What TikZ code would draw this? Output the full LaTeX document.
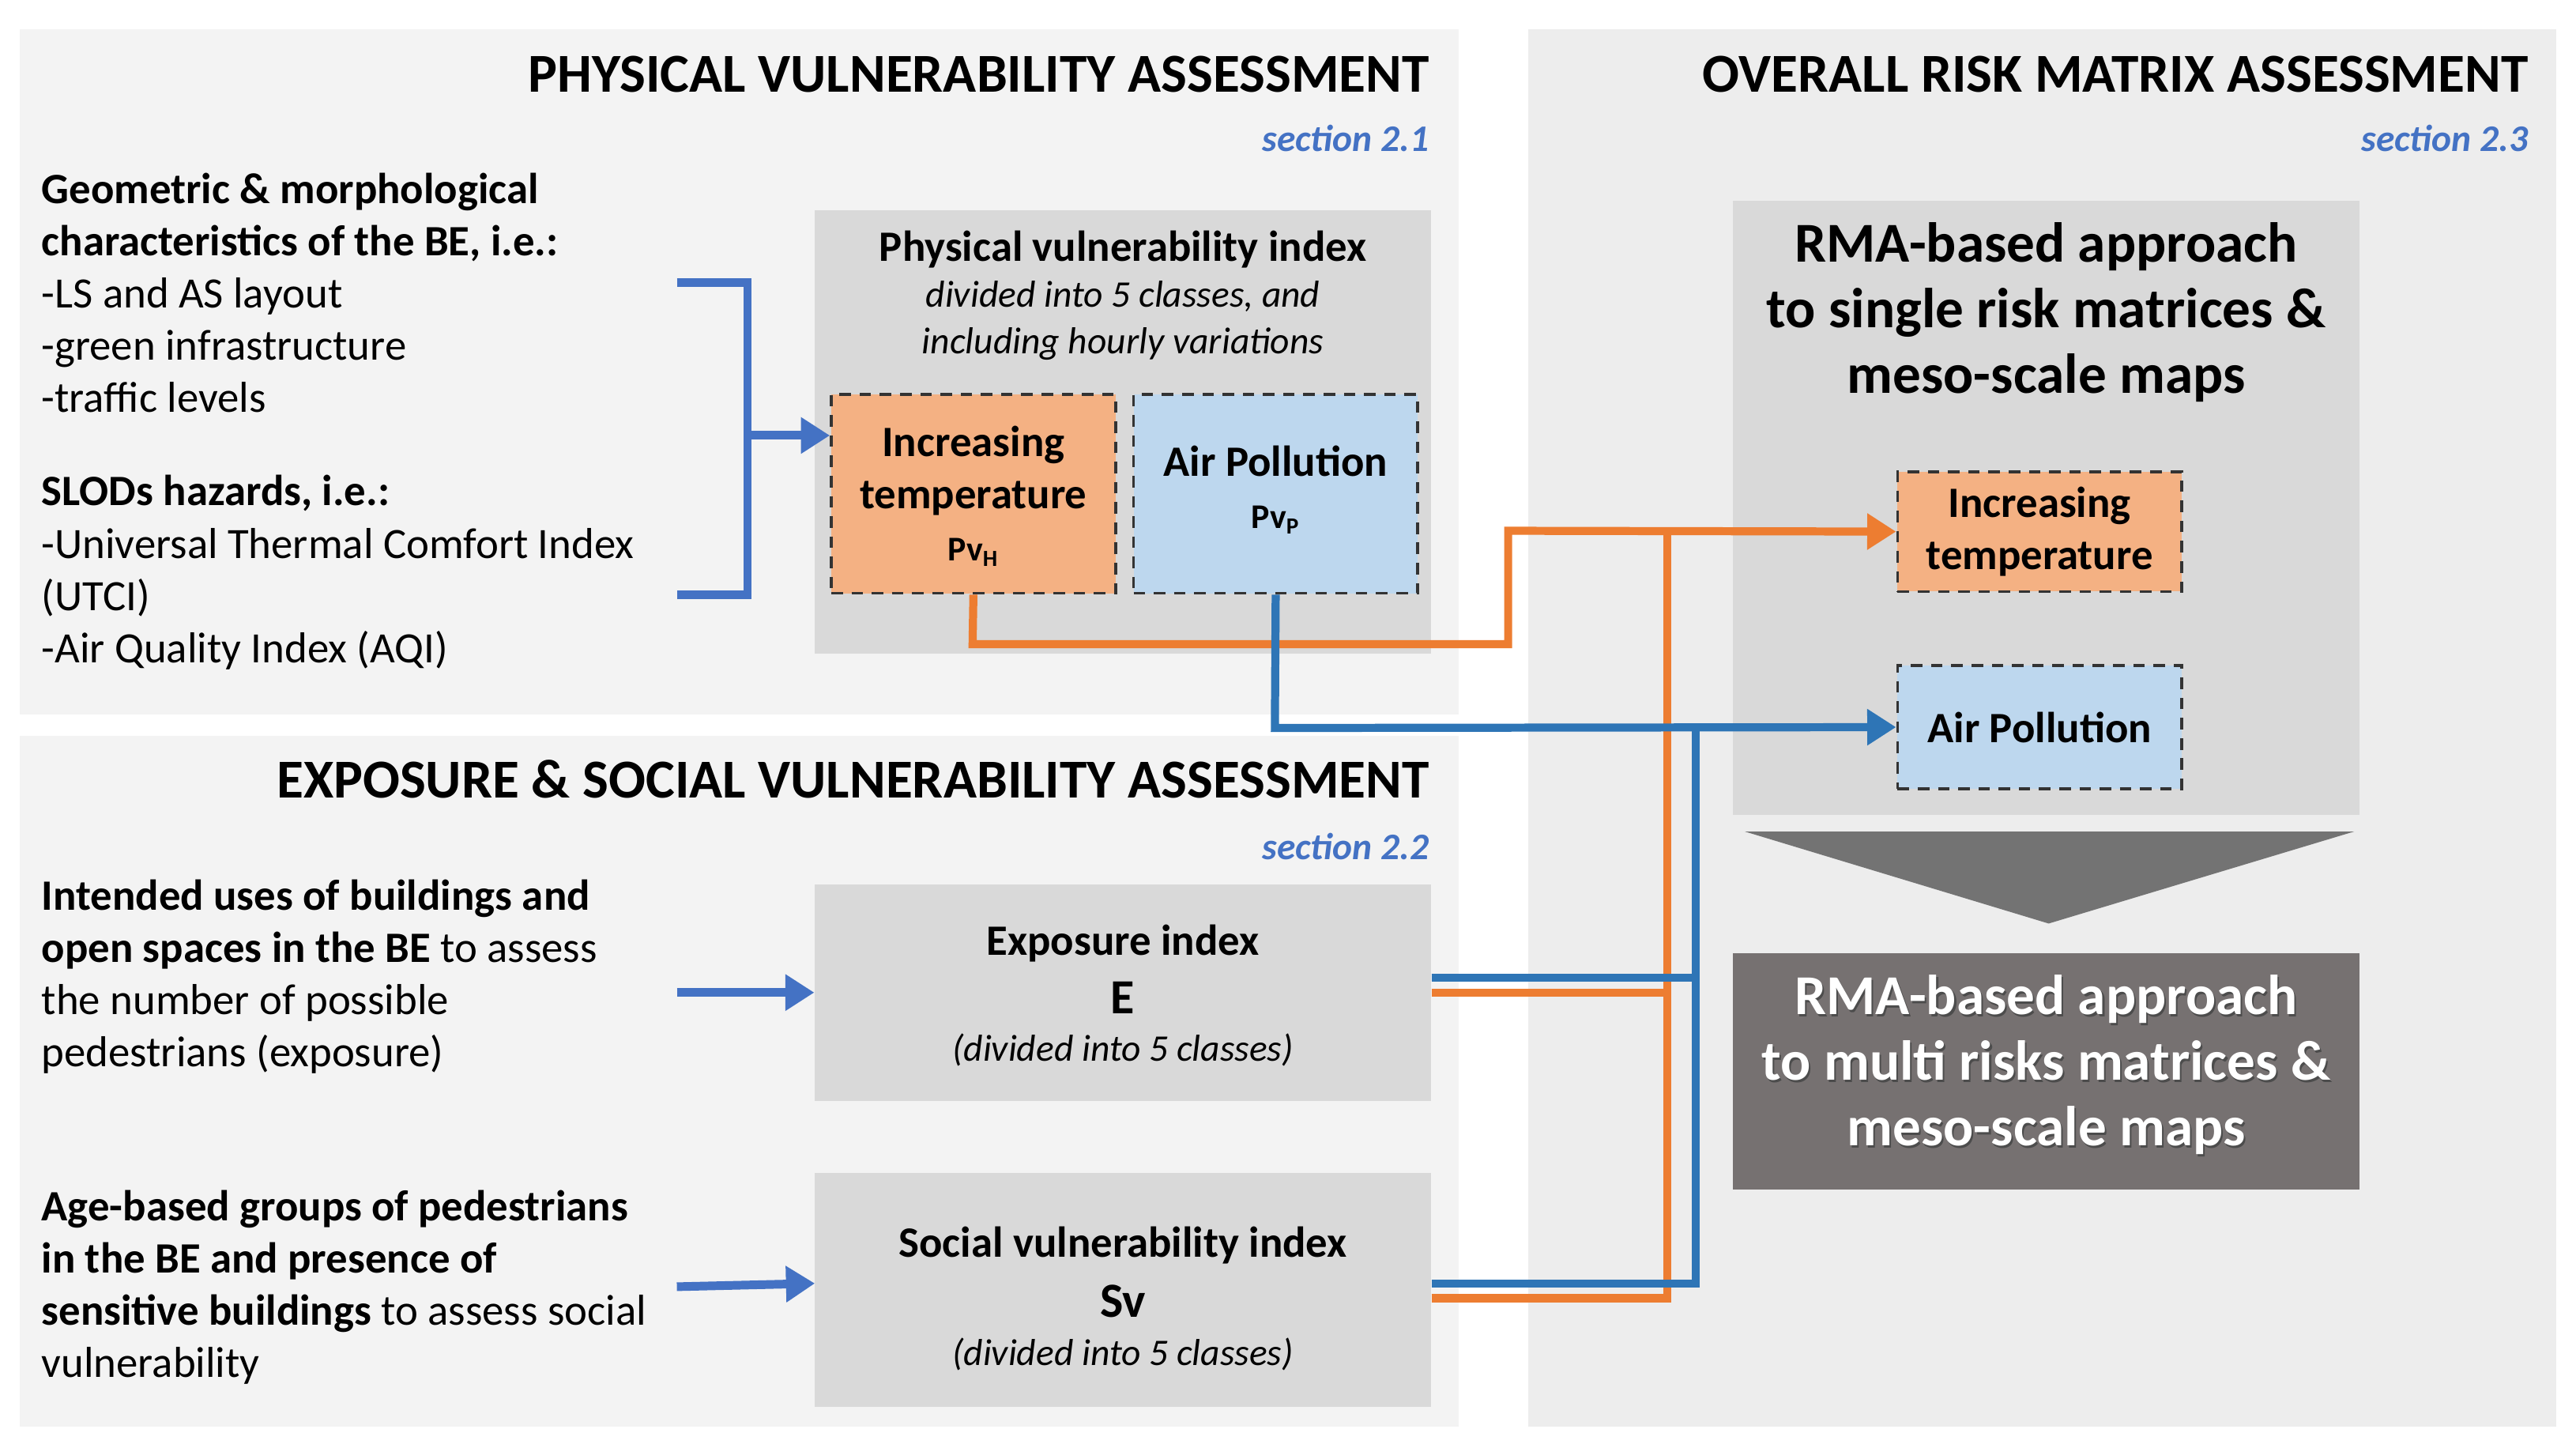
\documentclass[tikz,border=0pt]{standalone}
\usepackage{fontspec}
\setmainfont{Carlito}
\usetikzlibrary{arrows.meta}
\definecolor{bgA}{HTML}{F3F3F3}
\definecolor{bgC}{HTML}{EDEDED}
\definecolor{boxg}{HTML}{D9D9D9}
\definecolor{org}{HTML}{ED7D31}
\definecolor{orgf}{HTML}{F4B183}
\definecolor{blu}{HTML}{2E75B6}
\definecolor{bluf}{HTML}{BDD7EE}
\definecolor{bblu}{HTML}{4472C4}
\definecolor{secb}{HTML}{4472C4}
\definecolor{dark}{HTML}{767171}
\begin{document}
\begin{tikzpicture}[x=0.02cm,y=-0.02cm,
  panel/.style={fill=bgA,draw=none},
  gbox/.style={fill=boxg,draw=none},
  dbox/.style={draw=black!80,dashed,line width=1pt,dash pattern=on 4pt off 3pt},
  title/.style={font=\fontsize{19}{22}\selectfont\bfseries,anchor=east},
  sec/.style={font=\fontsize{13}{16}\selectfont\itshape\bfseries,text=secb,anchor=east},
  body/.style={font=\fontsize{15}{18.1}\selectfont,anchor=north west,align=left,inner sep=0},
  ctr/.style={align=center,inner sep=0},
  oc/.style={draw=org,line width=2.8pt},
  bc/.style={draw=blu,line width=2.8pt},
  arr/.style={-{Triangle[length=10pt,width=12pt]}},
  bl/.style={draw=bblu,line width=3pt}]
\fill[white] (0,0) rectangle (1568,881);
% panels
\fill[bgA] (12,18) rectangle (888,435);
\fill[bgA] (12,448) rectangle (888,868);
\fill[bgC] (930,18) rectangle (1556,868);
\node[title] (t1) at (876,45) {PHYSICAL VULNERABILITY ASSESSMENT};
\node[sec] (s1) at (876,84) {section 2.1};
\node[title] (t2) at (876,474) {EXPOSURE \& SOCIAL VULNERABILITY ASSESSMENT};
\node[sec] (s2) at (876,515) {section 2.2};
\node[title] (t3) at (1545,45) {OVERALL RISK MATRIX ASSESSMENT};
\node[sec] (s3) at (1545,84) {section 2.3};
% left texts
\node[body] (l1) at (25,105) {\textbf{Geometric \& morphological}\\\textbf{characteristics of the BE, i.e.:}\\-LS and AS layout\\-green infrastructure\\-traffic levels\\[14.2pt]\textbf{SLODs hazards, i.e.:}\\-Universal Thermal Comfort Index\\(UTCI)\\-Air Quality Index (AQI)};
\node[body] (l2) at (25,535) {\textbf{Intended uses of buildings and}\\\textbf{open spaces in the BE} to assess\\the number of possible\\pedestrians (exposure)};
\node[body] (l3) at (25,724) {\textbf{Age-based groups of pedestrians}\\\textbf{in the BE and presence of}\\\textbf{sensitive buildings} to assess social\\vulnerability};
% physical box
\fill[boxg] (496,128) rectangle (871,398);
\node[ctr,font=\fontsize{15}{18}\selectfont\bfseries] (pvi) at (683.5,152) {Physical vulnerability index};
\node[ctr,font=\fontsize{13}{16}\selectfont\itshape] (pvs) at (683.5,195) {divided into 5 classes, and\\including hourly variations};
\node[dbox,fill=orgf,minimum width=173*0.02cm,minimum height=121*0.02cm,inner sep=0] (ih) at (592.5,300.5) {};
\node[ctr,font=\fontsize{15}{18.1}\selectfont\bfseries] at (592.5,302) {Increasing\\temperature\\{\fontsize{12}{14}\selectfont Pv\textsubscript{H}}};
\node[dbox,fill=bluf,minimum width=173*0.02cm,minimum height=121*0.02cm,inner sep=0] (ap) at (776.5,300.5) {};
\node[ctr,font=\fontsize{15}{18.1}\selectfont\bfseries] at (776.5,298) {Air Pollution\\{\fontsize{12}{14}\selectfont Pv\textsubscript{P}}};
% bracket
\coordinate (b1) at (412,172); \coordinate (b2) at (455,172);
\coordinate (b3) at (455,362); \coordinate (b4) at (412,362);
\coordinate (bm) at (455,265);
\draw[bl] (b1) -- (b2) -- (b3) -- (b4);
\draw[bl,arr] (bm) -- (ih.west |- bm);
% exposure & social
\node[gbox,minimum width=375*0.02cm,minimum height=132*0.02cm,inner sep=0] (ex) at (683.5,604) {};
\node[ctr,font=\fontsize{15}{18}\selectfont\bfseries] at (683.5,574) {Exposure index};
\node[ctr,font=\fontsize{17}{20}\selectfont\bfseries] at (683.5,607) {E};
\node[ctr,font=\fontsize{13}{16}\selectfont\itshape] at (683.5,639) {(divided into 5 classes)};
\node[gbox,minimum width=375*0.02cm,minimum height=142*0.02cm,inner sep=0] (sv) at (683.5,785) {};
\node[ctr,font=\fontsize{15}{18}\selectfont\bfseries] at (683.5,758) {Social vulnerability index};
\node[ctr,font=\fontsize{17}{20}\selectfont\bfseries] at (683.5,792) {Sv};
\node[ctr,font=\fontsize{13}{16}\selectfont\itshape] at (683.5,824) {(divided into 5 classes)};
\coordinate (ea) at (412,604); \coordinate (sa) at (412,783);
\draw[bl,arr] (ea) -- (ex.west);
\draw[bl,arr] (sa) -- (496,781);
% RMA
\fill[boxg] (1055,122) rectangle (1436,496);
\node[ctr,font=\fontsize{19.5}{22.7}\selectfont\bfseries] (rma) at (1245.5,190) {RMA-based approach\\to single risk matrices \&\\meso-scale maps};
\node[dbox,fill=orgf,minimum width=173*0.02cm,minimum height=73*0.02cm,inner sep=0,ctr,font=\fontsize{15}{18.1}\selectfont\bfseries] (rt) at (1241.5,323.5) {Increasing\\temperature};
\node[dbox,fill=bluf,minimum width=173*0.02cm,minimum height=75*0.02cm,inner sep=0,ctr,font=\fontsize{15}{18.1}\selectfont\bfseries] (ra) at (1241.5,442.5) {Air Pollution};
\fill[black!55] (1062,506) -- (1433,506) -- (1247,562) -- cycle;
\node[fill=dark,minimum width=381*0.02cm,minimum height=144*0.02cm,inner sep=0] (mr) at (1245.5,652) {};
\node[ctr,font=\fontsize{19.5}{22.7}\selectfont\bfseries,text=black!70] at (1246.5,649.5) {RMA-based approach\\to multi risks matrices \&\\meso-scale maps};
\node[ctr,font=\fontsize{19.5}{22.7}\selectfont\bfseries,text=white] at (1245.5,648) {RMA-based approach\\to multi risks matrices \&\\meso-scale maps};
% connectors
\coordinate (o1) at (592,392); \coordinate (o2) at (918,392); \coordinate (o3) at (918,323);
\coordinate (oj) at (1015,323);
\coordinate (oe) at (1015,604); \coordinate (os) at (1015,790);
\coordinate (p1) at (776,443); \coordinate (bj) at (1032,443);
\coordinate (be) at (1032,595); \coordinate (bs) at (1032,781);
\draw[oc,arr] (ih.south) -- (o1) -- (o2) -- (o3) -- (rt.west);
\draw[oc] (ex.east |- oe) -- (oe) -- (oj);
\draw[oc] (sv.east |- os) -- (os) -- (oe);
\draw[bc,arr] (ap.south) -- (p1) -- (ra.west);
\draw[bc] (ex.east |- be) -- (be) -- (bj);
\draw[bc] (sv.east |- bs) -- (bs) -- (be);
\end{tikzpicture}
\end{document}
